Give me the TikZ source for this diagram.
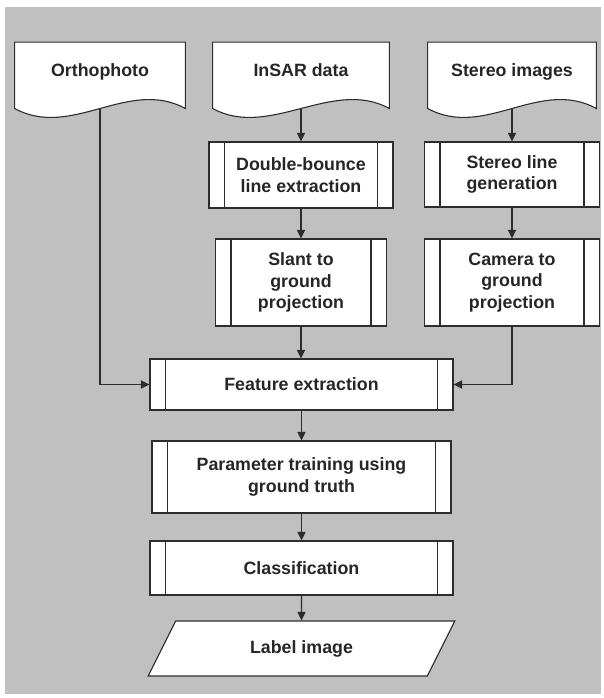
\documentclass[tikz,border=0pt]{standalone}
\usepackage{fontspec}
\setmainfont{Liberation Sans}
\usetikzlibrary{arrows.meta,shapes.geometric}

\definecolor{bggray}{RGB}{192,192,192}
\definecolor{inkgray}{RGB}{45,45,45}

\begin{document}
\begin{tikzpicture}[
  x=1pt,
  y=-1pt,
  every node/.style={font=\fontsize{17.8}{21.5}\selectfont\bfseries,text=black!85,align=center},
  procbox/.style={draw=inkgray,line width=1.1pt,fill=white,inner sep=0pt,
    path picture={
      \draw[inkgray,line width=1.1pt]
        ([xshift=15.5pt]path picture bounding box.north west) -- ([xshift=15.5pt]path picture bounding box.south west)
        ([xshift=-15.5pt]path picture bounding box.north east) -- ([xshift=-15.5pt]path picture bounding box.south east);}},
  docbox/.style={inner sep=0pt,minimum height=77pt,text height=12.7pt,text depth=20pt,
    path picture={
      \draw[inkgray,line width=1.1pt,fill=white]
        ([xshift=.6pt,yshift=-.6pt]path picture bounding box.north west)
        -- ([xshift=-.6pt,yshift=-.6pt]path picture bounding box.north east)
        -- ([xshift=-.6pt,yshift=10pt]path picture bounding box.south east)
        .. controls +(-57,-31) and +(57,31) ..
        ([xshift=.6pt,yshift=10pt]path picture bounding box.south west) -- cycle;}},
  iobox/.style={draw=inkgray,line width=1.1pt,fill=white,inner sep=0pt,trapezium,
    trapezium left angle=56,trapezium right angle=124,trapezium stretches=true},
  arr/.style={draw=inkgray,line width=1.1pt,-{Triangle[length=8.5pt,width=8pt]}}
  ]
  \useasboundingbox (0,0) rectangle (603,698);
  \fill[bggray] (5,7) rectangle (601,694);

  \node[docbox,minimum width=172pt] (ortho) at (100,80) {Orthophoto};
  \node[docbox,minimum width=178pt] (insar) at (301,80) {InSAR data};
  \node[docbox,minimum width=170pt] (stereo) at (512,80) {Stereo images};

  \node[procbox,minimum width=184pt,minimum height=66pt] (bounce) at (301,175) {Double-bounce\\line extraction};
  \node[procbox,minimum width=171pt,minimum height=87pt] (slant) at (301,282.5) {Slant to\\ground\\projection};
  \node[procbox,minimum width=175pt,minimum height=65pt] (sline) at (512,174.5) {Stereo line\\generation};
  \node[procbox,minimum width=175pt,minimum height=87pt] (camera) at (512,282.5) {Camera to\\ground\\projection};

  \node[procbox,minimum width=303pt,minimum height=51pt] (feature) at (301.5,384.5) {Feature extraction};
  \node[procbox,minimum width=299pt,minimum height=72pt] (param) at (301.5,477) {Parameter training using\\ground truth};
  \node[procbox,minimum width=303pt,minimum height=54pt] (classif) at (301.5,568) {Classification};
  \node[iobox,minimum width=307pt,minimum height=55pt] (labelimg) at (301.5,648.5) {Label image};

  \draw[arr] ([yshift=10pt]insar.south) -- (bounce.north);
  \draw[arr] (bounce.south) -- (slant.north);
  \draw[arr] ([yshift=10pt]stereo.south) -- (sline.north);
  \draw[arr] (sline.south) -- (camera.north);

  \draw[arr] ([yshift=10pt]ortho.south) |- (feature.west);
  \draw[arr] (slant.south) -- (slant.south |- feature.north);
  \draw[arr] (camera.south) |- (feature.east);

  \draw[arr] (feature.south) -- (param.north);
  \draw[arr] (param.south) -- (classif.north);
  \draw[arr] (classif.south) -- (labelimg.north);
\end{tikzpicture}
\end{document}
